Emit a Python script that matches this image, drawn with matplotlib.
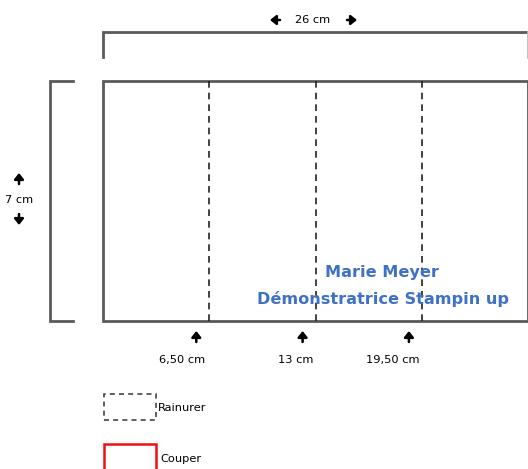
import matplotlib
matplotlib.use("Agg")
import matplotlib.pyplot as plt
from matplotlib.patches import Rectangle

# Data (cm)
card_width = 26.0
card_height = 7.0
crease_positions = [6.5, 13.0, 19.5]
crease_labels = ["6,50 cm", "13 cm", "19,50 cm"]
width_label = "26 cm"
height_label = "7 cm"
name_lines = ["Marie Meyer", "Démonstratrice Stampin up"]
legend_labels = ["Rainurer", "Couper"]

W, H = 528, 469
fig = plt.figure(figsize=(W / 100, H / 100), dpi=100)
ax = fig.add_axes([0, 0, 1, 1])
ax.set_axis_off()

# pixel layout -> cm mapping
X0, X1 = 103, 528.2
Y_TOP, Y_BOT = 81, 321
SX = (X1 - X0) / card_width
SY = (Y_BOT - Y_TOP) / card_height
ax.set_xlim(-X0 / SX, (W - X0) / SX)
ax.set_ylim(-(H - Y_BOT) / SY, Y_BOT / SY)


def P(px, py):
    return (px - X0) / SX, (Y_BOT - py) / SY


edge = "#5a5a5a"
LW = 2.0
# card outline
ax.add_patch(Rectangle((0, 0), card_width, card_height, fill=False,
                       ec=edge, lw=LW, clip_on=True))
# crease lines
for c in crease_positions:
    ax.plot([c, c], [0, card_height], ls=(0, (4, 3)), color="#222222", lw=1.2)

# top bracket
xa, ya = P(103, 32)
xb, yb = P(103, 57)
ax.plot([xa, xa, card_width], [yb, ya, ya], color=edge, lw=LW,
        solid_joinstyle="miter")
ax.plot([card_width, card_width], [ya, yb], color="#bbbbbb", lw=LW)
# left bracket
lx, _ = P(50, 0)
tx, _ = P(73, 0)
ax.plot([tx, lx, lx, tx], [card_height, card_height, 0, 0], color=edge,
        lw=LW, solid_joinstyle="miter")

font = "DejaVu Sans"
FS = 8.2
arrow_kw = dict(arrowstyle="-|>,head_width=0.28,head_length=0.35",
                color="black", lw=1.8, shrinkA=0, shrinkB=0)

# width label with arrows
ax.text(*P(313, 20), width_label, ha="center", va="center", fontsize=FS,
        family=font)
ax.annotate("", xy=P(270, 20), xytext=P(280, 20), arrowprops=arrow_kw)
ax.annotate("", xy=P(357, 20), xytext=P(347, 20), arrowprops=arrow_kw)

# height label with arrows
ax.text(*P(19, 200), height_label, ha="center", va="center", fontsize=FS,
        family=font)
ax.annotate("", xy=P(19, 173), xytext=P(19, 184), arrowprops=arrow_kw)
ax.annotate("", xy=P(19, 225), xytext=P(19, 214), arrowprops=arrow_kw)

# crease labels with arrows
offs = [-13, -13, -13]
label_centers = [-27, -20, -29]
for c, lab, o, lc in zip(crease_positions, crease_labels, offs, label_centers):
    xpx = X0 + c * SX
    ax.annotate("", xy=P(xpx + o, 331), xytext=P(xpx + o, 342),
                arrowprops=arrow_kw)
    ax.text(*P(xpx + lc, 360), lab, ha="center", va="center", fontsize=FS,
            family=font)

# name text
blue = "#3f72c6"
ax.text(*P(382, 272), name_lines[0], ha="center", va="center", fontsize=11.6,
        color=blue, family=font, fontweight="bold")
ax.text(*P(383, 299), name_lines[1], ha="center", va="center", fontsize=11.6,
        color=blue, family=font, fontweight="bold")

# legend
lx0, ly0 = P(104, 420)
lx1, ly1 = P(156, 394)
ax.add_patch(Rectangle((lx0, ly0), lx1 - lx0, ly1 - ly0, fill=False,
                       ec="#444444", lw=1.2, ls=(0, (3, 2.5))))
ax.text(*P(158, 408), legend_labels[0], ha="left", va="center", fontsize=FS,
        family=font)
rx0, ry0 = P(104, 472)
rx1, ry1 = P(156, 444)
ax.add_patch(Rectangle((rx0, ry0), rx1 - rx0, ry1 - ry0, fill=False,
                       ec="#ee1111", lw=1.8))
ax.text(*P(160, 459), legend_labels[1], ha="left", va="center", fontsize=FS,
        family=font)

fig.savefig("out.png", dpi=100)
